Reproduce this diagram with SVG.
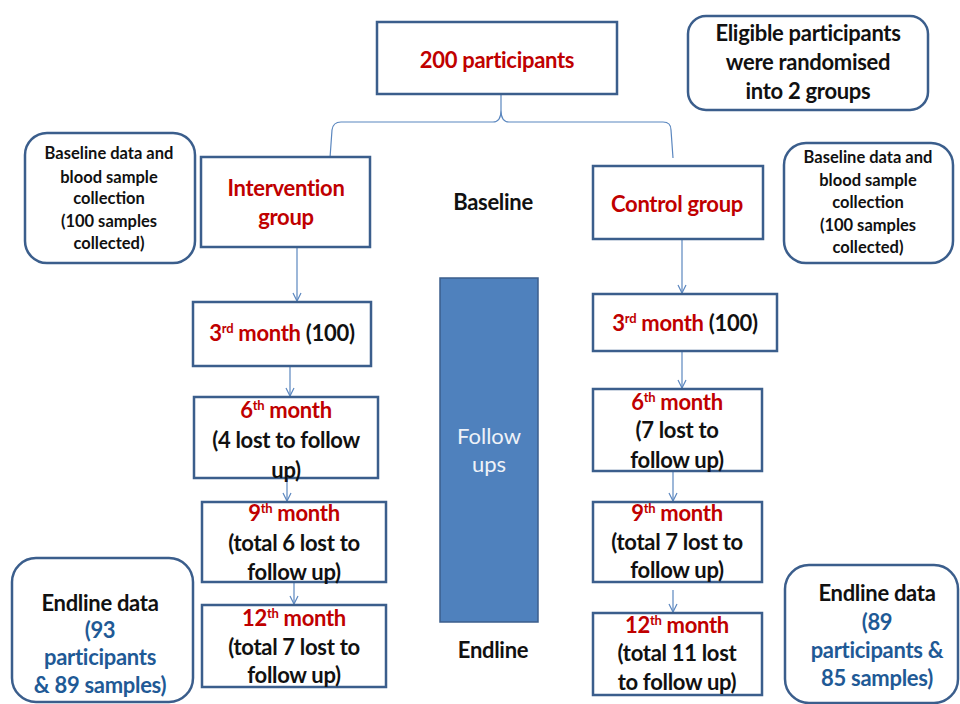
<svg xmlns="http://www.w3.org/2000/svg" width="960" height="704" viewBox="0 0 960 704">
<defs>
<marker id="arr" markerUnits="userSpaceOnUse" markerWidth="10" markerHeight="10" viewBox="0 0 10 10" refX="9" refY="5" orient="auto">
<path d="M1,1 L9,5 L1,9" fill="none" stroke="#5b87bf" stroke-width="1.2"/>
</marker>
<style>
.box{fill:#fff;stroke:#3b5e8c;stroke-width:2.5}
.rbox{fill:#fff;stroke:#3b5e8c;stroke-width:2.5}
.con{fill:none;stroke:#5b87bf;stroke-width:1.2}
text{font-family:Lato,"Open Sans","Liberation Sans",sans-serif;font-weight:bold;text-anchor:middle}
.red{fill:#c00000}
.blk{fill:#111}
.blu{fill:#1f5a96}
.t19{font-size:22px;letter-spacing:-0.3px}
.t14{font-size:16.5px}
.sup{font-size:13px}
.fu{font-weight:normal;font-size:22px;fill:#eef2f8}
</style>
</defs>
<rect width="960" height="704" fill="#fff"/>
<g id="connectors">
<path class="con" d="M330,158 L332,130 Q333,122 341,122 L493,122 Q501,122 501,110 L501,87 M501,110 Q501,122 509,122 L663,122 Q671,122 671,130 L673,158"/>
<line class="con" x1="297" y1="247" x2="297" y2="301" marker-end="url(#arr)"/>
<line class="con" x1="290" y1="366" x2="290" y2="396" marker-end="url(#arr)"/>
<line class="con" x1="287" y1="470" x2="287" y2="501" marker-end="url(#arr)"/>
<line class="con" x1="294" y1="582" x2="294" y2="604" marker-end="url(#arr)"/>
<line class="con" x1="682" y1="239" x2="682" y2="293" marker-end="url(#arr)"/>
<line class="con" x1="682" y1="351" x2="682" y2="388" marker-end="url(#arr)"/>
<line class="con" x1="673" y1="465" x2="673" y2="501" marker-end="url(#arr)"/>
<line class="con" x1="673" y1="590" x2="673" y2="612" marker-end="url(#arr)"/>
</g>
<g id="n-total">
<rect class="box" x="377" y="22" width="240" height="72"/>
<text class="t19 red" x="497" y="68">200 participants</text>
</g>
<g id="n-eligible">
<rect class="rbox" x="688" y="16" width="240" height="94" rx="18"/>
<text class="t19 blk" x="808" y="41">Eligible participants</text>
<text class="t19 blk" x="808" y="70">were randomised</text>
<text class="t19 blk" x="808" y="99">into 2 groups</text>
</g>
<g id="n-baseline-left">
<rect class="rbox" x="25" y="133" width="170" height="130" rx="22"/>
<text class="t14 blk" x="109" y="159">Baseline data and</text>
<text class="t14 blk" x="109" y="183">blood sample</text>
<text class="t14 blk" x="109" y="204">collection</text>
<text class="t14 blk" x="109" y="227">(100 samples</text>
<text class="t14 blk" x="109" y="249">collected)</text>
</g>
<g id="n-intervention">
<rect class="box" x="201" y="157" width="169" height="90"/>
<text class="t19 red" x="286" y="196">Intervention</text>
<text class="t19 red" x="286" y="225">group</text>
</g>
<g id="n-baseline-label">
<text class="t19 blk" x="493" y="210">Baseline</text>
</g>
<g id="n-control">
<rect class="box" x="593" y="166" width="170" height="73"/>
<text class="t19 red" x="677" y="212">Control group</text>
</g>
<g id="n-baseline-right">
<rect class="rbox" x="784" y="143" width="169" height="120" rx="22"/>
<text class="t14 blk" x="868" y="163">Baseline data and</text>
<text class="t14 blk" x="868" y="186">blood sample</text>
<text class="t14 blk" x="868" y="208">collection</text>
<text class="t14 blk" x="868" y="231">(100 samples</text>
<text class="t14 blk" x="868" y="253">collected)</text>
</g>
<g id="n-l3">
<rect class="box" x="193" y="302" width="178" height="64"/>
<text class="t19" x="282" y="341"><tspan class="red">3</tspan><tspan class="red sup" dy="-8">rd</tspan><tspan class="red" dy="8"> month</tspan><tspan class="blk"> (100)</tspan></text>
</g>
<g id="n-l6">
<rect class="box" x="194" y="397" width="184" height="81"/>
<text class="t19 red" x="286" y="418">6<tspan class="sup" dy="-8">th</tspan><tspan dy="8">  month</tspan></text>
<text class="t19 blk" x="286" y="448">(4 lost to follow</text>
<text class="t19 blk" x="286" y="478">up)</text>
</g>
<g id="n-l9">
<rect class="box" x="202" y="502" width="184" height="80"/>
<text class="t19 red" x="294" y="521">9<tspan class="sup" dy="-8">th</tspan><tspan dy="8"> month</tspan></text>
<text class="t19 blk" x="294" y="551">(total 6 lost to</text>
<text class="t19 blk" x="294" y="580">follow up)</text>
</g>
<g id="n-l12">
<rect class="box" x="202" y="605" width="184" height="82"/>
<text class="t19 red" x="294" y="626">12<tspan class="sup" dy="-8">th</tspan><tspan dy="8"> month</tspan></text>
<text class="t19 blk" x="294" y="655">(total 7 lost to</text>
<text class="t19 blk" x="294" y="683">follow up)</text>
</g>
<g id="n-followups">
<rect x="440" y="278" width="98" height="344" fill="#4f81bd" stroke="#3b5e8c" stroke-width="1.5"/>
<text class="fu" x="489" y="444">Follow</text>
<text class="fu" x="489" y="472">ups</text>
</g>
<g id="n-endline-label">
<text class="t19 blk" x="493" y="658">Endline</text>
</g>
<g id="n-r3">
<rect class="box" x="593" y="294" width="184" height="57"/>
<text class="t19" x="685" y="331"><tspan class="red">3</tspan><tspan class="red sup" dy="-8">rd</tspan><tspan class="red" dy="8"> month</tspan><tspan class="blk"> (100)</tspan></text>
</g>
<g id="n-r6">
<rect class="box" x="593" y="389" width="169" height="82"/>
<text class="t19 red" x="677" y="410">6<tspan class="sup" dy="-8">th</tspan><tspan dy="8"> month</tspan></text>
<text class="t19 blk" x="677" y="438">(7 lost to</text>
<text class="t19 blk" x="677" y="468">follow up)</text>
</g>
<g id="n-r9">
<rect class="box" x="593" y="502" width="169" height="80"/>
<text class="t19 red" x="677" y="521">9<tspan class="sup" dy="-8">th</tspan><tspan dy="8"> month</tspan></text>
<text class="t19 blk" x="677" y="550">(total 7 lost to</text>
<text class="t19 blk" x="677" y="578">follow up)</text>
</g>
<g id="n-r12">
<rect class="box" x="593" y="613" width="169" height="82"/>
<text class="t19 red" x="677" y="633">12<tspan class="sup" dy="-8">th</tspan><tspan dy="8">  month</tspan></text>
<text class="t19 blk" x="677" y="661">(total 11 lost</text>
<text class="t19 blk" x="677" y="690">to follow up)</text>
</g>
<g id="n-endline-left">
<rect class="rbox" x="12" y="558" width="181" height="144" rx="24"/>
<text class="t19 blk" x="100" y="611">Endline data</text>
<text class="t19 blu" x="100" y="638">(93</text>
<text class="t19 blu" x="100" y="665">participants</text>
<text class="t19 blu" x="100" y="693">&amp; 89 samples)</text>
</g>
<g id="n-endline-right">
<rect class="rbox" x="785" y="565" width="173" height="138" rx="24"/>
<text class="t19 blk" x="877" y="601">Endline data</text>
<text class="t19 blu" x="877" y="630">(89</text>
<text class="t19 blu" x="877" y="658">participants &amp;</text>
<text class="t19 blu" x="877" y="686">85 samples)</text>
</g>
</svg>
